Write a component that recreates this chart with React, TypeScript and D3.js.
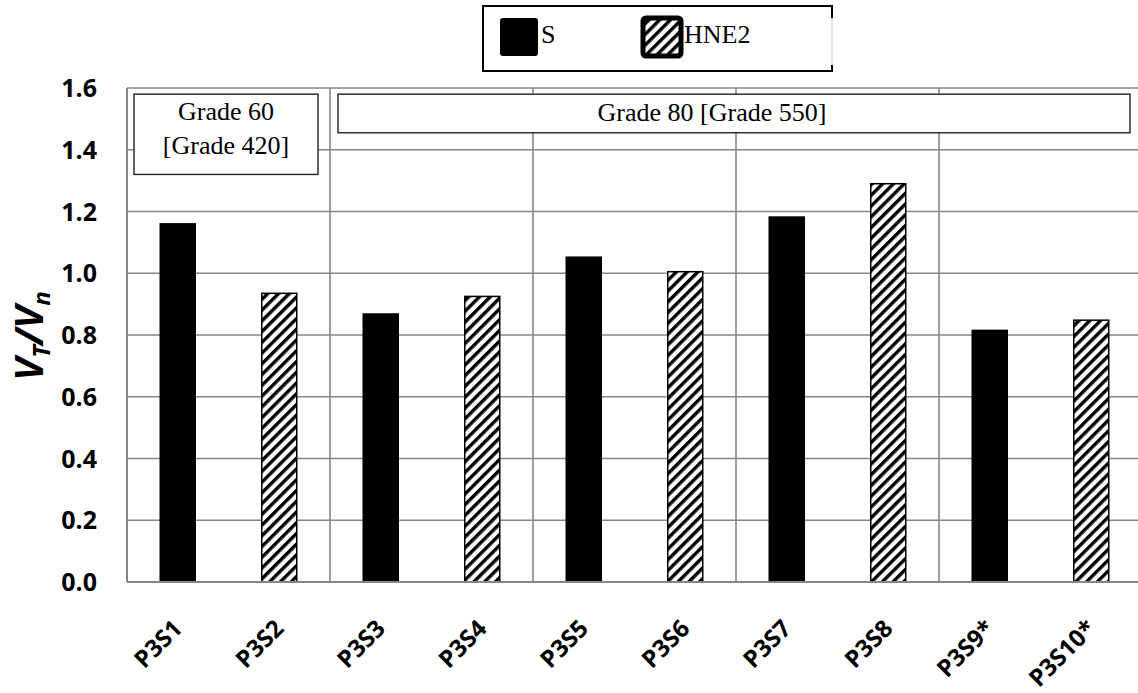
import React, { useEffect, useRef } from "react";
import * as d3 from "d3";

const categories = ["P3S1", "P3S2", "P3S3", "P3S4", "P3S5", "P3S6", "P3S7", "P3S8", "P3S9*", "P3S10*"];
const seriesType = ["S", "HNE2", "S", "HNE2", "S", "HNE2", "S", "HNE2", "S", "HNE2"];
const values = [1.16, 0.935, 0.868, 0.925, 1.052, 1.005, 1.182, 1.29, 0.815, 0.848];
const yTicks = [0, 0.2, 0.4, 0.6, 0.8, 1.0, 1.2, 1.4, 1.6];
const legendItems = ["S", "HNE2"];

const W = 1138;
const H = 693;
const M = { left: 127, top: 88, bottom: 582, right: 1142 };
const SERIF = "Liberation Serif";

export default function App() {
  const ref = useRef<SVGSVGElement | null>(null);

  useEffect(() => {
    const svg = d3.select(ref.current);
    svg.selectAll("*").remove();

    const x = d3.scaleBand<string>().domain(categories).range([M.left, M.right]).padding(0);
    const y = d3.scaleLinear().domain([0, 1.6]).range([M.bottom, M.top]);
    const bw = x.bandwidth();
    const barW = 35;
    const grid = "#868686";

    const defs = svg.append("defs");
    const pat = defs
      .append("pattern")
      .attr("id", "hatch")
      .attr("patternUnits", "userSpaceOnUse")
      .attr("width", 7.6)
      .attr("height", 7.6)
      .attr("patternTransform", "rotate(45)");
    pat.append("rect").attr("width", 7.6).attr("height", 7.6).attr("fill", "#fff");
    pat.append("rect").attr("x", 0).attr("width", 3.4).attr("height", 7.6).attr("fill", "#000");

    // horizontal gridlines
    svg
      .append("g")
      .selectAll("line")
      .data(yTicks)
      .join("line")
      .attr("x1", M.left)
      .attr("x2", W)
      .attr("y1", (d) => y(d))
      .attr("y2", (d) => y(d))
      .attr("stroke", grid)
      .attr("stroke-width", 1.6);

    // vertical gridlines at group boundaries
    const groupStarts = categories.filter((_, i) => i % 2 === 0);
    svg
      .append("g")
      .selectAll("line")
      .data(groupStarts)
      .join("line")
      .attr("x1", (d) => x(d)!)
      .attr("x2", (d) => x(d)!)
      .attr("y1", y(1.6))
      .attr("y2", y(0))
      .attr("stroke", grid)
      .attr("stroke-width", 1.6);

    // annotation boxes
    const ann = svg.append("g");
    const b1x = x("P3S1")! + 7;
    const b1w = x("P3S3")! - x("P3S1")! - 19;
    ann
      .append("rect")
      .attr("x", b1x)
      .attr("y", y(1.58))
      .attr("width", b1w)
      .attr("height", y(1.32) - y(1.58))
      .attr("fill", "#fff")
      .attr("stroke", "#222")
      .attr("stroke-width", 1.4);
    const g60 = ann
      .append("text")
      .attr("text-anchor", "middle")
      .style("font-family", SERIF)
      .attr("font-size", 26)
      .attr("fill", "#000");
    g60.append("tspan").attr("x", b1x + b1w / 2).attr("y", 120).text("Grade 60");
    g60.append("tspan").attr("x", b1x + b1w / 2).attr("y", 154).text("[Grade 420]");

    ann
      .append("rect")
      .attr("x", x("P3S3")! + 8)
      .attr("y", y(1.58))
      .attr("width", 1130 - x("P3S3")! - 8)
      .attr("height", y(1.455) - y(1.58))
      .attr("fill", "#fff")
      .attr("stroke", "#222")
      .attr("stroke-width", 1.4);
    ann
      .append("text")
      .attr("x", 712)
      .attr("y", 121)
      .attr("text-anchor", "middle")
      .style("font-family", SERIF)
      .attr("font-size", 26)
      .attr("fill", "#000")
      .text("Grade 80 [Grade 550]");

    // bars
    svg
      .append("g")
      .selectAll("rect")
      .data(categories)
      .join("rect")
      .attr("x", (d) => x(d)! + bw / 2 - barW / 2)
      .attr("y", (_, i) => y(values[i]))
      .attr("width", barW)
      .attr("height", (_, i) => y(0) - y(values[i]))
      .attr("fill", (_, i) => (seriesType[i] === "S" ? "#000" : "url(#hatch)"))
      .attr("stroke", "#000")
      .attr("stroke-width", 1.5);

    // axes lines
    svg
      .append("line")
      .attr("x1", M.left)
      .attr("x2", W)
      .attr("y1", y(0))
      .attr("y2", y(0))
      .attr("stroke", grid)
      .attr("stroke-width", 2);
    svg
      .append("line")
      .attr("x1", M.left)
      .attr("x2", M.left)
      .attr("y1", y(1.6))
      .attr("y2", y(0))
      .attr("stroke", grid)
      .attr("stroke-width", 2);

    // y tick labels
    svg
      .append("g")
      .selectAll("text")
      .data(yTicks)
      .join("text")
      .attr("x", 97)
      .attr("y", (d) => y(d))
      .attr("dy", "0.36em")
      .attr("text-anchor", "end")
      .style("font-family", "Open Sans")
      .attr("font-weight", "bold")
      .attr("font-size", 25)
      .attr("fill", "#000")
      .text((d) => d.toFixed(1));

    // x labels
    svg
      .append("g")
      .selectAll("text")
      .data(categories)
      .join("text")
      .attr("transform", (d) => `translate(${x(d)! + bw / 2 + 6},${630}) rotate(-45)`)
      .attr("text-anchor", "end")
      .style("font-family", "Open Sans")
      .attr("font-weight", "bold")
      .attr("font-size", 24)
      .attr("fill", "#000")
      .text((d) => d);

    // y title
    const yt = svg
      .append("text")
      .attr("transform", `translate(${43},${336}) rotate(-90)`)
      .attr("text-anchor", "middle")
      .style("font-family", "Open Sans")
      .attr("font-weight", "bold")
      .attr("font-style", "italic")
      .attr("font-size", 39)
      .attr("fill", "#000");
    yt.append("tspan").text("V");
    yt.append("tspan").attr("font-size", 24).attr("dy", 7).text("T");
    yt.append("tspan").attr("dy", -7).text("/V");
    yt.append("tspan").attr("font-size", 24).attr("dy", 7).text("n");

    // legend
    const lg = svg.append("g");
    const lx0 = 483, ly0 = 6, lx1 = 832, ly1 = 71;
    lg.append("rect").attr("x", lx0).attr("y", ly0).attr("width", lx1 - lx0).attr("height", ly1 - ly0).attr("fill", "#fff").attr("stroke", "none");
    lg.append("path")
      .attr("d", `M${lx1},${ly0 + 12} L${lx1},${ly0} L${lx0},${ly0} L${lx0},${ly1} L${lx1},${ly1} L${lx1},${ly1 - 6}`)
      .attr("fill", "none")
      .attr("stroke", "#000")
      .attr("stroke-width", 2);
    lg.append("line")
      .attr("x1", lx1).attr("x2", lx1).attr("y1", ly0 + 12).attr("y2", ly1 - 6)
      .attr("stroke", "#ccc").attr("stroke-width", 1);
    const legX = [500, 643];
    legendItems.forEach((name, i) => {
      lg.append("rect")
        .attr("x", legX[i])
        .attr("y", 18)
        .attr("width", 38)
        .attr("height", 38)
        .attr("rx", 3)
        .attr("fill", name === "S" ? "#000" : "url(#hatch)")
        .attr("stroke", "#000")
        .attr("stroke-width", name === "S" ? 0 : 5);
      lg.append("text")
        .attr("x", legX[i] + 41)
        .attr("y", 43)
        .style("font-family", SERIF)
        .attr("font-size", 26)
        .attr("fill", "#000")
        .text(name);
    });
  }, []);

  return (
    <svg
      ref={ref}
      width={W}
      height={H}
      style={{ position: "absolute", left: 0, top: 0, background: "#fff" }}
    />
  );
}
